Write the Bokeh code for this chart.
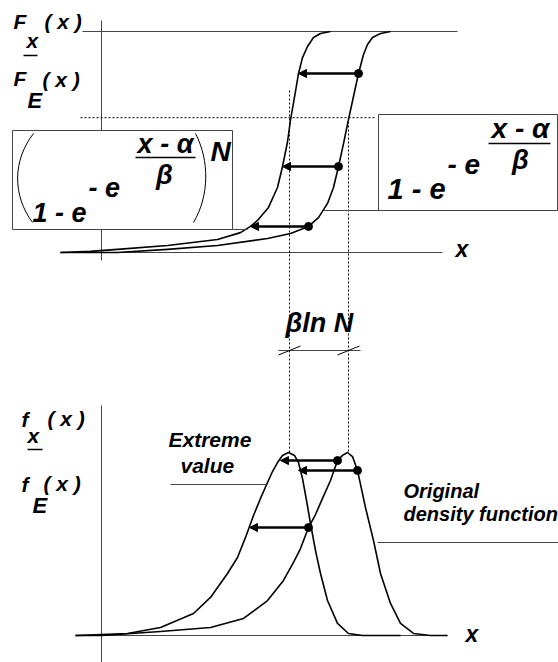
from bokeh.plotting import figure
from bokeh.models import Range1d, ColumnDataSource, Arrow, NormalHead
from bokeh.core.properties import value
from bokeh.embed import file_html
from bokeh.resources import INLINE

# ---------------- data ----------------
# Upper panel: cumulative distributions F(x) (x in shared horizontal units)
cdf_orig_x = [60, 117, 167, 217, 267, 290, 308, 318, 327, 333, 338, 343, 348, 353, 358, 363, 367, 372, 380, 390]
cdf_orig = [0.0, 0.0, 0.014, 0.032, 0.063, 0.086, 0.118, 0.158, 0.222, 0.294, 0.389, 0.493, 0.602, 0.706,
            0.810, 0.896, 0.941, 0.973, 0.991, 1.0]
cdf_ext_x = [60, 90, 117, 167, 217, 240, 250, 257, 268, 277, 282, 287, 290, 295, 298, 302, 307, 313, 320, 330]
cdf_ext = [0.0, 0.005, 0.014, 0.032, 0.059, 0.090, 0.118, 0.145, 0.204, 0.294, 0.389, 0.500, 0.600, 0.729,
           0.810, 0.882, 0.932, 0.973, 0.991, 1.0]

# Lower panel: densities f(x), scaled to a unit peak
pdf_orig_x = [75, 101, 160, 210, 243, 267, 283, 293, 300, 308, 315, 322, 330, 337, 342, 347, 352, 357,
              365, 373, 380, 390, 400, 413, 430, 447]
pdf_orig = [0.0, 0.0, 0.022, 0.044, 0.093, 0.191, 0.301, 0.399, 0.475, 0.590, 0.661, 0.749, 0.847, 0.956,
            0.984, 1.0, 0.978, 0.902, 0.699, 0.519, 0.339, 0.175, 0.066, 0.011, 0.0, 0.0]
pdf_ext_x = [75, 101, 127, 160, 193, 210, 227, 237, 245, 253, 260, 267, 272, 277, 282, 288, 294, 298, 302,
             306, 310, 315, 320, 327, 337, 348, 362, 400]
pdf_ext = [0.0, 0.005, 0.011, 0.044, 0.120, 0.208, 0.339, 0.426, 0.536, 0.656, 0.749, 0.836, 0.896, 0.945,
           0.984, 1.0, 0.984, 0.945, 0.858, 0.738, 0.612, 0.464, 0.339, 0.191, 0.066, 0.011, 0.0, 0.0]

# Mapping arrows: from a point of the original curve to the extreme-value curve at equal height
cdf_arrow_level = [0.810, 0.389, 0.118]
cdf_arrow_from = [358, 338, 308]
cdf_arrow_to = [298, 282, 250]
pdf_arrow_level = [0.956, 0.902, 0.590]
pdf_arrow_from = [337, 357, 308]
pdf_arrow_to = [280, 298, 249]

# Modes of the two densities and the reference probability level
modes = [289, 348]
ref_level = 0.61

# ---------------- layout ----------------
W, H = 558, 662
TOP_BASE, TOP_UNIT = 252, 221     # canvas rows of F = 0 and span up to F = 1
BOT_BASE, BOT_UNIT = 635, 183     # canvas rows of f = 0 and span up to the peak
RAISE = 0.37                      # baseline correction, in em

FONT = value("Liberation Sans")
INK = "black"
GREY = "#444444"

p = figure(width=W, height=H, x_range=Range1d(0, W), y_range=Range1d(H, 0),
           x_axis_type=None, y_axis_type=None, output_backend="svg",
           toolbar_location=None, min_border=0, outline_line_color=None,
           background_fill_color="white", border_fill_color="white")
p.extra_y_ranges = {
    "cdf": Range1d((TOP_BASE - H) / TOP_UNIT, TOP_BASE / TOP_UNIT),
    "pdf": Range1d((BOT_BASE - H) / BOT_UNIT, BOT_BASE / BOT_UNIT),
}


def label(x, y, txt, size, align="left"):
    p.text(x=[x], y=[y - RAISE * size], text=[txt], text_font=FONT, text_font_size=f"{size}px",
           text_font_style="bold italic", text_color=INK, text_align=align,
           text_baseline="alphabetic")


# axes of the upper panel
p.segment(x0=[101], y0=[20], x1=[101], y1=[260], line_color=GREY, line_width=1)
p.segment(x0=[82, 60], y0=[1.0, 0.0], x1=[457, 442], y1=[1.0, 0.0],
          line_color=GREY, line_width=1, y_range_name="cdf")
p.segment(x0=[80], y0=[ref_level], x1=[375], y1=[ref_level], line_color=INK,
          line_width=1, line_dash="2 2", y_range_name="cdf")

# axes of the lower panel
p.segment(x0=[101], y0=[405], x1=[101], y1=[H], line_color=GREY, line_width=1)
p.segment(x0=[75], y0=[0.0], x1=[447], y1=[0.0], line_color=GREY, line_width=1,
          y_range_name="pdf")

# dotted verticals through the two modes
p.segment(x0=modes, y0=[90, 117], x1=modes, y1=[452, 452], line_color=INK,
          line_width=1, line_dash="2 2")

# curves
for xs, ys, rng in [(cdf_orig_x, cdf_orig, "cdf"), (cdf_ext_x, cdf_ext, "cdf"),
                    (pdf_orig_x, pdf_orig, "pdf"), (pdf_ext_x, pdf_ext, "pdf")]:
    p.line(xs, ys, line_color=INK, line_width=1.6, line_join="round", y_range_name=rng)

# formula boxes with their leader lines
p.quad(left=[12, 378], right=[232, 557], top=[130, 114], bottom=[229, 210],
       fill_color="white", line_color=GREY, line_width=1)
p.segment(x0=[232, 323], y0=[229, 210], x1=[247, 378], y1=[229, 210], line_color=GREY, line_width=1)

# left box: (1 - e^{-e^{(x-a)/b}})^N
p.bezier(x0=[33, 195], y0=[133, 133], x1=[32, 193], y1=[222, 222],
         cx0=[12, 209], cy0=[160, 160], cx1=[12, 209], cy1=[195, 195], line_color=INK, line_width=1)
label(32, 222, "1 - e", 27)
label(88, 197, "- e", 27)
label(165, 153, "x - α", 27, "center")
p.segment(x0=[135], y0=[157], x1=[195], y1=[157], line_color=INK, line_width=1.5)
label(164, 184, "β", 27, "center")
label(210, 161, "N", 28)

# right box: 1 - e^{-e^{(x-a)/b}}
label(387, 199, "1 - e", 29)
label(447, 174, "- e", 28)
label(520, 138, "x - α", 28, "center")
p.segment(x0=[488], y0=[143], x1=[550], y1=[143], line_color=INK, line_width=1.5)
label(520, 169, "β", 27, "center")

# arrows and dots
for lev, x0, x1, rng in [(cdf_arrow_level, cdf_arrow_from, cdf_arrow_to, "cdf"),
                         (pdf_arrow_level, pdf_arrow_from, pdf_arrow_to, "pdf")]:
    src = ColumnDataSource(dict(x0=x0, x1=x1, y=lev))
    p.add_layout(Arrow(end=NormalHead(size=8, fill_color=INK, line_color=INK, line_width=1),
                       source=src, x_start="x0", y_start="y", x_end="x1", y_end="y",
                       line_color=INK, line_width=2.5, y_range_name=rng))
    p.scatter(x=x0, y=lev, size=8, fill_color=INK, line_color=INK, y_range_name=rng)

# shift between the modes
p.segment(x0=[278], y0=[350], x1=[360], y1=[350], line_color=GREY, line_width=1)
p.segment(x0=[m - 11 for m in modes], y0=[354.5, 354.5], x1=[m + 11 for m in modes],
          y1=[345.5, 345.5], line_color=INK, line_width=1)
label(285, 332, "βln N", 27)

# axis labels
label(13, 29, "F", 21)
label(26, 48, "x", 21)
p.segment(x0=[23], y0=[55], x1=[37], y1=[55], line_color=INK, line_width=1.5)
label(44, 29, "( x )", 21)
label(13, 86, "F", 21)
label(27, 108, "E", 22)
label(42, 87, "( x )", 21)

label(21, 427, "f", 21)
label(27, 443, "x", 21)
p.segment(x0=[27], y0=[449], x1=[42], y1=[449], line_color=INK, line_width=1.5)
label(47, 426, "( x )", 21)
label(21, 492, "f", 21)
label(32, 513, "E", 22)
label(43, 491, "( x )", 21)

label(455, 257, "x", 23)
label(465, 642, "x", 23)

# curve annotations
label(168, 447, "Extreme", 21)
label(180, 473, "value", 21)
p.segment(x0=[170], y0=[484], x1=[267], y1=[484], line_color=GREY, line_width=1)
label(403, 498, "Original", 20)
label(403, 521, "density function", 20)
p.segment(x0=[377], y0=[542], x1=[W], y1=[542], line_color=GREY, line_width=1)

open("out.html", "w").write(file_html(p, INLINE))
